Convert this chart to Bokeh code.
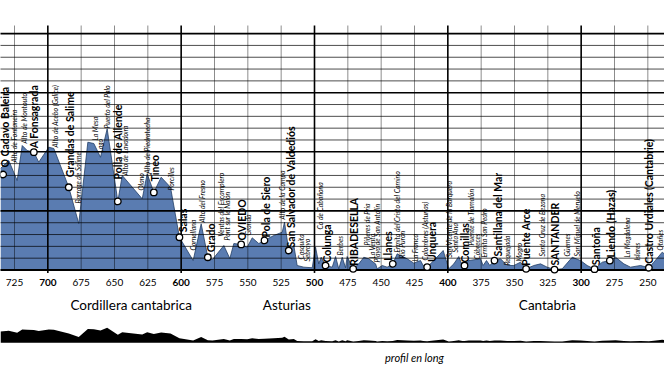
import math
from bokeh.plotting import figure
from bokeh.models import Range1d
from bokeh.core.properties import value
from bokeh.embed import file_html
from bokeh.resources import INLINE

# ---------------- data ----------------
profile_km = [735.5, 729.3, 723.0, 719.2, 715.5, 710.5, 706.8, 699.3, 695.5, 684.3,
              676.8, 670.0, 665.5, 660.5, 655.5, 647.5, 644.2, 629.2, 625.5, 620.5,
              615.0, 608.0, 601.3, 591.0, 585.0, 580.0, 576.5, 568.0, 563.5, 560.5,
              555.0, 550.5, 546.7, 541.8, 537.5, 530.5, 524.2, 522.5, 519.3, 515.5,
              513.0, 508.0, 501.7, 499.2, 496.8, 495.0, 491.7, 486.7, 484.2, 481.8,
              479.2, 476.7, 475.5, 471.0, 466.8, 463.0, 459.3, 454.2, 453.0, 449.2,
              445.5, 441.3, 438.0, 430.5, 425.5, 420.5, 418.5, 415.5, 410.5, 403.5,
              399.3, 395.5, 391.8, 389.2, 387.5, 384.3, 375.5, 373.5, 371.0, 368.5,
              365.0, 360.5, 355.5, 350.5, 345.5, 341.3, 335.5, 330.5, 325.5, 320.0,
              314.2, 306.7, 300.5, 295.5, 290.0, 284.2, 278.5, 274.2, 268.0, 263.0,
              255.5, 249.2, 245.5, 239.2, 231.5]
profile_elev = [859, 926, 757, 1053, 1011, 997, 912, 1039, 1028, 700,
                393, 1081, 1070, 954, 1195, 580, 800, 602, 814, 656,
                785, 700, 277, 80, 391, 108, 89, 207, 97, 224,
                216, 193, 272, 224, 250, 292, 320, 404, 165, 207,
                38, 24, 19, 193, 52, 108, 38, 24, 114, 10,
                108, 19, 114, 10, 52, 108, 95, 52, 10, 38,
                24, 52, 137, 95, 58, 80, 38, 25, 80, 165,
                10, 52, 114, 38, 38, 80, 95, 38, 80, 38,
                80, 95, 38, 38, 66, 10, 38, 52, 24, 4,
                10, 108, 80, 38, 7, 66, 80, 108, 52, 24,
                38, 19, 66, 151, 80]

town_names = ["O Cadavo Baleira", "A Fonsagrada", "Grandas de Salime", "Polla de Allende",
              "Tineo", "Salas", "Grado", "OVIEDO", "Pola de Siero",
              "San Salvador de Valdediós", "Colunga", "RIBADESELLA", "Llanes", "Unquera",
              "Comillas", "Santillana del Mar", "Puente Arce", "SANTANDER", "Santoña",
              "Liendo (Hazas)", "Castro Urdiales (Cantabrie)"]
town_km = [733.5, 710.5, 684.3, 647.5, 620.5, 601.3, 580.0, 555.0, 537.5, 519.3, 491.7,
           471.0, 441.3, 415.5, 387.5, 365.0, 341.3, 320.0, 290.0, 278.5, 249.2]
town_elev = [808, 997, 700, 580, 656, 277, 108, 216, 250, 165, 38,
             10, 52, 25, 38, 80, 10, 4, 7, 80, 19]

place_names = ["Alto de Fontaneira", "Alto de Montouto", "Alto de Acebo (Galice)",
               "Barrage de Salime", "La Mesa", "Lago", "Puerto del Palo", "Alto de Lavadoira",
               "Olano", "Alto de Piedratecha", "Porcilles", "Cornellana", "Alto del Fresno",
               "Ventas del Escamplero", "Pont sur le Nalón", "Granda", "Alto de la Campa",
               "Casquita", "Sebrayo", "Co de Cabañona", "Berbes", "Piñeres de Pria",
               "La Venta", "Playa de San Antolín", "Ermita del Cristo del Camino",
               "Río Purón", "La Franca", "Colombres (Asturias)",
               "San Vicente de la Barquera", "Santa Ana", "Puente de Tramalón", "Cóbreces",
               "Ermita San Pedro", "Requejada", "Mogro", "Santa Cruz de Bezana", "Güemes",
               "San Miguel de Meruelo", "La Magdalena", "Islares", "Otañes"]
place_km = [725.5, 718.0, 694.3, 677.5, 664.3, 661.0, 655.5, 641.8, 630.5, 625.5, 607.5,
            591.0, 584.2, 569.8, 565.6, 550.2, 524.4, 510.5, 506.0, 496.2, 481.2, 461.0,
            456.7, 453.0, 438.0, 434.2, 424.3, 417.5, 399.3, 394.3, 383.0, 378.5, 373.0,
            355.5, 346.8, 329.2, 310.5, 303.0, 265.5, 258.0, 239.2]

x_ticks = [725, 700, 675, 650, 625, 600, 575, 550, 525, 500, 475, 450, 425, 400,
           375, 350, 325, 300, 275, 250]
y_ticks = [100, 200, 300, 400, 500, 600, 700, 800, 900, 1000, 1100, 1200, 1300, 1400,
           1500, 1600, 1700, 1800, 1900, 2000]

region_names = ["Cordillera cantabrica", "Asturias", "Cantabria"]
region_km = [637.5, 520.8, 325.3]

# ---------------- layout (pixels) ----------------
W, H = 664, 364
BASE_PX = 269.5          # y of 0 m
K = 0.1182               # px per metre (main profile)
KPX = 0.75               # km per px
LEFT_KM = 735.5
RIGHT_KM = LEFT_KM - W * KPX
MINI_BASE_PX = 341.0
MK = 0.0115              # px per metre (mini profile)


def elev_at(py):
    return (BASE_PX - py) / K


town_dx = [2.2, 0, 1, 0, 0.7, 3.3, 3.4, 1, 1, 2.4, 1.7, 1.3, -5, 5, 0, 3.7, 0, 0, 1, 1.4, 0]
town_gap = [7, 4, 10, 22, 11, 5, 5, 4, 3, 3, 3, 3, 3, 5, 3, 4, 3, 4, 4, 3, 4]
place_dx = [0] * (len(place_km) - 1) + [-2.2]
place_base_py = [162, 143, 147, 203, 140, 152, 128, 175, 190, 173, 190, 250, 222, 236, 240,
                 235, 219, 259, 261, 229, 255, 245, 258, 262, 252, 258, 261, 260, 257, 252,
                 245, 259, 257, 265, 261, 256, 256, 256, 257, 260, 250]

p = figure(width=W, height=H,
           x_range=Range1d(LEFT_KM, RIGHT_KM),
           y_range=Range1d(elev_at(H), elev_at(0)),
           output_backend="svg", toolbar_location=None, min_border=0,
           x_axis_location=None, y_axis_location=None)
p.grid.visible = False
p.outline_line_color = None
p.background_fill_color = "white"
p.border_fill_color = "white"

# profile
p.varea(x=profile_km, y1=[0] * len(profile_km), y2=profile_elev, fill_color="#5a7cb1")
p.line(profile_km, profile_elev, line_color="#233f66", line_width=0.8)

# grid (over the fill)
top_v = elev_at(25)
minor_x = [t for t in x_ticks if t % 100]
major_x = [t for t in x_ticks if t % 100 == 0]
p.segment(x0=minor_x, y0=[0] * len(minor_x), x1=minor_x, y1=[top_v] * len(minor_x),
          line_color="black", line_alpha=0.45, line_width=1)
p.segment(x0=major_x, y0=[-25] * len(major_x), x1=major_x, y1=[top_v] * len(major_x),
          line_color="black", line_width=1.6)
minor_y = [t for t in y_ticks if t % 500]
major_y = [t for t in y_ticks if t % 500 == 0]
xa, xb = LEFT_KM + 5, RIGHT_KM - 5
p.segment(x0=[xa] * len(minor_y), y0=minor_y, x1=[xb] * len(minor_y), y1=minor_y,
          line_color="black", line_alpha=0.7, line_width=1)
p.segment(x0=[xa] * len(major_y), y0=major_y, x1=[xb] * len(major_y), y1=major_y,
          line_color="black", line_width=1.6)
p.segment(x0=[xa], y0=[0], x1=[xb], y1=[0], line_color="black", line_width=2)

# towns
p.scatter(town_km, town_elev, size=6.5, fill_color="white", line_color="black", line_width=1.3)
p.text(x=[k - d * KPX for k, d in zip(town_km, town_dx)],
       y=[e + g / K for e, g in zip(town_elev, town_gap)],
       text=town_names, angle=math.pi / 2, text_align="left", text_baseline="middle",
       text_font=value("Lato"), text_font_style="bold",
       text_font_size="10.5px", text_color="black")

# places
p.text(x=[k - d * KPX for k, d in zip(place_km, place_dx)],
       y=[elev_at(v) for v in place_base_py], text=place_names,
       angle=math.pi / 2, text_align="left", text_baseline="middle",
       text_font=value("Lato"), text_font_style="italic",
       text_font_size="6.9px", text_color="black")

# tick labels
tick_y = elev_at(282)
p.text(x=minor_x, y=[tick_y] * len(minor_x), text=[str(t) for t in minor_x],
       text_align="center", text_baseline="middle", text_font=value("Lato"),
       text_font_size="10px", text_color="black")
p.text(x=major_x, y=[tick_y] * len(major_x), text=[str(t) for t in major_x],
       text_align="center", text_baseline="middle", text_font=value("Lato"),
       text_font_style="bold", text_font_size="10px", text_color="black")

# regions
p.text(x=region_km, y=[elev_at(304)] * len(region_km), text=region_names,
       text_align="center", text_baseline="middle", text_font=value("Lato"),
       text_font_size="13.5px", text_color="black")

# mini profile
p.extra_y_ranges = {"mini": Range1d(-(H - MINI_BASE_PX) / MK, MINI_BASE_PX / MK)}
p.varea(x=profile_km, y1=[-100] * len(profile_km), y2=profile_elev,
        fill_color="black", y_range_name="mini")

p.text(x=[425], y=[elev_at(357)], text=["profil en long"],
       text_align="center", text_baseline="middle",
       text_font=value("Lato"), text_font_style="italic",
       text_font_size="11px", text_color="black")

open("out.html", "w").write(file_html(p, INLINE))
